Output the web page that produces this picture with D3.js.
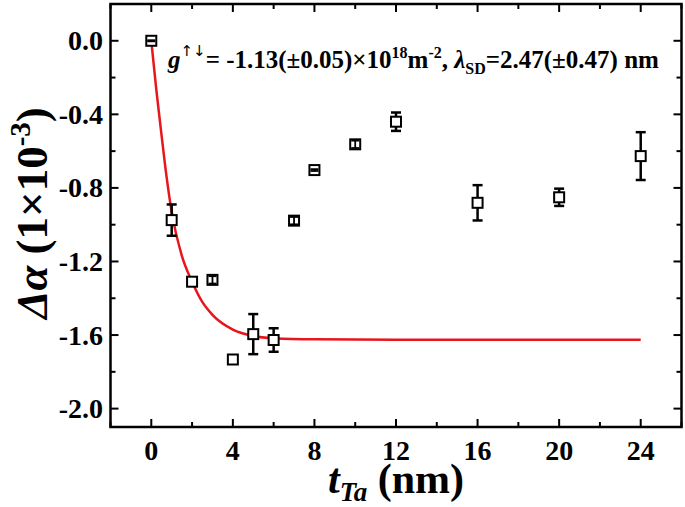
<!DOCTYPE html>
<html>
<head>
<meta charset="utf-8">
<script src="https://cdn.jsdelivr.net/npm/d3@7"></script>
<style>
  body { margin: 0; background: #fff; }
</style>
</head>
<body>
<div id="chart"></div>
<script>
(function() {
  const width = 685
  const height = 507
  const serif = '"Liberation Serif", "Times New Roman", serif'

  // measured points: thickness (nm), delta alpha (1e-3), error
  const thickness = [0, 1, 2, 3, 4, 5, 6, 7, 8, 10, 12, 16, 20, 24]
  const deltaAlpha = [0.0, -0.975, -1.31, -1.30, -1.733, -1.595, -1.627, -0.978, -0.703, -0.563, -0.44, -0.881, -0.851, -0.627]
  const errors = [0.003, 0.085, 0, 0.02, 0, 0.109, 0.064, 0.02, 0.005, 0.02, 0.05, 0.096, 0.047, 0.13]

  // fit curve
  const fitT = [0, 0.25, 0.5, 0.75, 1, 1.5, 2, 2.5, 3, 4, 5, 6, 8, 12, 24]
  const fitY = [0, -0.27, -0.51, -0.74, -0.93, -1.17, -1.31, -1.42, -1.49, -1.57, -1.605, -1.617, -1.623, -1.625, -1.625]

  const xTicks = [0, 4, 8, 12, 16, 20, 24]
  const xMinor = [-2, 2, 6, 10, 14, 18, 22, 26]
  const yTicks = [0.0, -0.4, -0.8, -1.2, -1.6, -2.0]
  const yMinor = [0.2, -0.2, -0.6, -1.0, -1.4, -1.8]

  const margin = {left: 110.5, right: 3.5, top: 4, bottom: 80}
  const x = d3.scaleLinear().domain([-2, 26]).range([margin.left, width - margin.right])
  const y = d3.scaleLinear().domain([-2.1, 0.2]).range([height - margin.bottom, margin.top])

  const svg = d3.select('#chart').append('svg')
      .attr('width', width)
      .attr('height', height)
      .style('display', 'block')

  const x0 = x.range()[0], x1 = x.range()[1]
  const y0 = y.range()[0], y1 = y.range()[1]

  // ticks, pointing inward, on all four sides
  const tickG = svg.append('g').attr('stroke', '#000').attr('stroke-width', 2)
  const major = 8, minor = 5
  xTicks.concat(xMinor).forEach(v => {
    const len = xTicks.includes(v) ? major : minor
    tickG.append('line').attr('x1', x(v)).attr('x2', x(v)).attr('y1', y0).attr('y2', y0 - len)
    tickG.append('line').attr('x1', x(v)).attr('x2', x(v)).attr('y1', y1).attr('y2', y1 + len)
  })
  yTicks.concat(yMinor).forEach(v => {
    const len = yTicks.includes(v) ? major : minor
    tickG.append('line').attr('y1', y(v)).attr('y2', y(v)).attr('x1', x0).attr('x2', x0 + len)
    tickG.append('line').attr('y1', y(v)).attr('y2', y(v)).attr('x1', x1).attr('x2', x1 - len)
  })

  // frame
  svg.append('rect')
      .attr('x', x0).attr('y', y1)
      .attr('width', x1 - x0).attr('height', y0 - y1)
      .attr('fill', 'none').attr('stroke', '#000').attr('stroke-width', 2.5)

  // tick labels
  svg.append('g').selectAll('text')
    .data(xTicks)
    .enter().append('text')
      .attr('x', d => x(d))
      .attr('y', 460)
      .attr('text-anchor', 'middle')
      .style('font-size', '28px')
      .text(d => d)

  svg.append('g').selectAll('text')
    .data(yTicks)
    .enter().append('text')
      .attr('x', 103)
      .attr('y', d => y(d))
      .attr('dy', '0.34em')
      .attr('text-anchor', 'end')
      .style('font-size', '28px')
      .text(d => d.toFixed(1))

  // fit line
  const line = d3.line().x((d, i) => x(fitT[i])).y(d => y(d)).curve(d3.curveMonotoneX)
  svg.append('path')
      .attr('d', line(fitY))
      .attr('fill', 'none')
      .attr('stroke', '#e8161c')
      .attr('stroke-width', 2.5)

  // error bars and markers
  const pts = thickness.map((t, i) => ({t, v: deltaAlpha[i], e: errors[i]}))
  const half = 5
  const drawErr = (sel, cap) => {
    sel.append('line')
        .attr('x1', d => x(d.t)).attr('x2', d => x(d.t))
        .attr('y1', d => y(d.v + d.e)).attr('y2', d => y(d.v - d.e))
    sel.append('line')
        .attr('x1', d => x(d.t) - cap).attr('x2', d => x(d.t) + cap)
        .attr('y1', d => y(d.v + d.e)).attr('y2', d => y(d.v + d.e))
    sel.append('line')
        .attr('x1', d => x(d.t) - cap).attr('x2', d => x(d.t) + cap)
        .attr('y1', d => y(d.v - d.e)).attr('y2', d => y(d.v - d.e))
  }
  const errBack = svg.append('g').attr('stroke', '#000').attr('stroke-width', 2.5)
    .selectAll('g').data(pts.filter(d => d.e > 0)).enter().append('g')
  drawErr(errBack, 5)

  svg.append('g').selectAll('rect')
    .data(pts)
    .enter().append('rect')
      .attr('x', d => x(d.t) - half)
      .attr('y', d => y(d.v) - half)
      .attr('width', half * 2)
      .attr('height', half * 2)
      .attr('fill', '#fff')
      .attr('stroke', '#000')
      .attr('stroke-width', 2)

  // tiny error bars show up inside the square
  const errFront = svg.append('g').attr('stroke', '#000').attr('stroke-width', 1.8)
    .selectAll('g').data(pts.filter(d => d.e > 0 && Math.abs(y(d.v) - y(d.v + d.e)) < half)).enter().append('g')
  drawErr(errFront, 4)

  // annotation
  const note = svg.append('text')
      .attr('x', 168)
      .attr('y', 68)
      .style('font-size', '25px')
  note.append('tspan').style('font-style', 'italic').text('g')
  note.append('tspan').attr('class', 'arrows').style('font-size', '15px').attr('dy', -12).text('↑↓')
  note.append('tspan').attr('dy', 12).text('= -1.13(±0.05)×10')
  note.append('tspan').style('font-size', '16px').attr('dy', -10).text('18')
  note.append('tspan').attr('dy', 10).text('m')
  note.append('tspan').style('font-size', '16px').attr('dy', -10).text('-2')
  note.append('tspan').attr('dy', 10).text(', ')
  note.append('tspan').style('font-style', 'italic').text('λ')
  note.append('tspan').style('font-size', '16px').attr('dy', 6).text('SD')
  note.append('tspan').attr('dy', -6).text('=2.47(±0.47) nm')

  // x axis title
  const xt = svg.append('text')
      .attr('x', x(12))
      .attr('y', 493)
      .attr('text-anchor', 'middle')
      .style('font-size', '42px')
  xt.append('tspan').style('font-style', 'italic').text('t')
  xt.append('tspan').style('font-style', 'italic').style('font-size', '27px').attr('dy', 8).text('Ta')
  xt.append('tspan').attr('dy', -8).text(' (nm)')

  // y axis title
  const yt = svg.append('text')
      .attr('transform', `translate(47,213) rotate(-90)`)
      .attr('text-anchor', 'middle')
      .style('font-size', '45px')
  yt.append('tspan').style('font-style', 'italic').text('Δα')
  yt.append('tspan').text(' (1×10')
  yt.append('tspan').style('font-size', '29px').attr('dy', -17).text('-3')
  yt.append('tspan').attr('dy', 17).text(')')

  // set the face on every text node directly
  svg.selectAll('text, tspan')
      .style('font-family', serif)
      .style('font-weight', 'bold')
  svg.selectAll('tspan.arrows')
      .style('font-family', '"DejaVu Sans"')
      .style('font-weight', 'normal')
})()
</script>
</body>
</html>
